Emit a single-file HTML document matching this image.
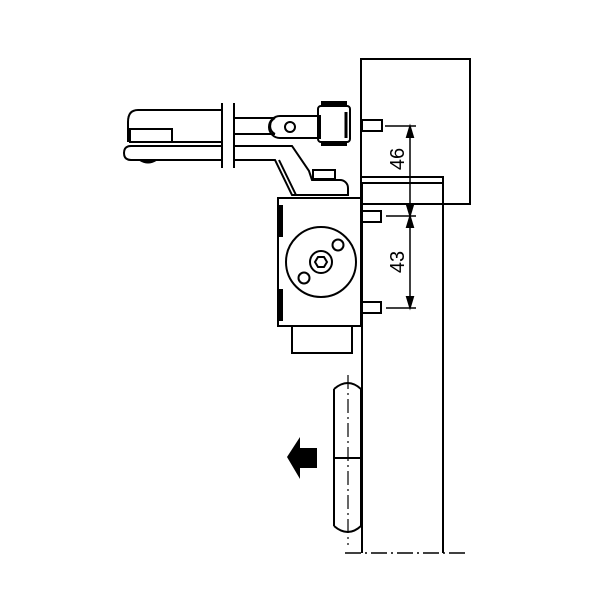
<!DOCTYPE html><html><head><style>body{margin:0;background:#fff}</style></head><body>
<svg width="600" height="600" viewBox="0 0 600 600" xmlns="http://www.w3.org/2000/svg" fill="none" stroke="#000" stroke-width="2">
<rect width="600" height="600" fill="#fff" stroke="none"/>
<rect x="361" y="59" width="109" height="145"/>
<path d="M361 177H443V553M361 183H443M362 183V553"/>
<rect x="362" y="120" width="20" height="11"/>
<rect x="362" y="211" width="19" height="11"/>
<rect x="362" y="302" width="19" height="11"/>
<path d="M385 126H416M386 216H416M386 308H416M410 128V306" stroke-width="1.5"/>
<path d="M410 127l-3 10h6zM410 215l-3 -10h6zM410 217l-3 10h6zM410 307l-3 -10h6z" fill="#000"/>
<text x="0" y="0" transform="translate(404,159) rotate(-90)" font-family="Liberation Sans, sans-serif" font-size="20" fill="#000" stroke="none" text-anchor="middle">46</text>
<text x="0" y="0" transform="translate(404,262) rotate(-90)" font-family="Liberation Sans, sans-serif" font-size="20" fill="#000" stroke="none" text-anchor="middle">43</text>
<rect x="278" y="198" width="83" height="128"/>
<rect x="278" y="206" width="4" height="30" fill="#000"/>
<rect x="278" y="290" width="4" height="30" fill="#000"/>
<rect x="292" y="326" width="60" height="27"/>
<circle cx="321" cy="262" r="35"/>
<circle cx="321" cy="262" r="11"/>
<polygon points="327,262 324,267 318,267 315,262 318,257 324,257"/>
<circle cx="338" cy="245" r="5.5"/>
<circle cx="304" cy="278" r="5.5"/>
<path d="M222 110H138Q128 110 128 122V142"/>
<rect x="130" y="129" width="42" height="13"/>
<path d="M222 142H130M222 146H131Q124 146 124 153Q124 160 131 160H222M222 160"/>
<path d="M140 160q8 5 16 0" fill="#000"/>
<path d="M222 103V168M234 103V168"/>
<path d="M235 118H275M235 134H275"/>
<path d="M275 118a9 9 0 0 0 0 16"/>
<path d="M280 116H320V138H280a11 11 0 0 1 0-22z"/>
<circle cx="290" cy="127" r="5"/>
<rect x="318" y="106" width="32" height="36" rx="3"/>
<rect x="322" y="102" width="24" height="4" fill="#000"/>
<rect x="322" y="142" width="24" height="3" fill="#000"/>
<path d="M346 112V138" stroke-width="3"/>
<path d="M235 146H292L309 171L312 180H340a8 8 0 0 1 8 8V195H292L275 160H235"/>
<path d="M279 160L296 195"/>
<rect x="313" y="170" width="22" height="9"/>
<path d="M334 389V526M361 389V526M334 458H361"/>
<path d="M334 389Q348 377 361 389M334 526Q348 538 361 526"/>
<path d="M348 375V545" stroke-width="1.2" stroke-dasharray="14,4,2,4"/>
<polygon points="287,457 300,437 300,448 317,448 317,468 300,468 300,479" fill="#000" stroke="none"/>
<path d="M345 553H465" stroke-width="1.5" stroke-dasharray="16,4,2,4"/>
</svg></body></html>
